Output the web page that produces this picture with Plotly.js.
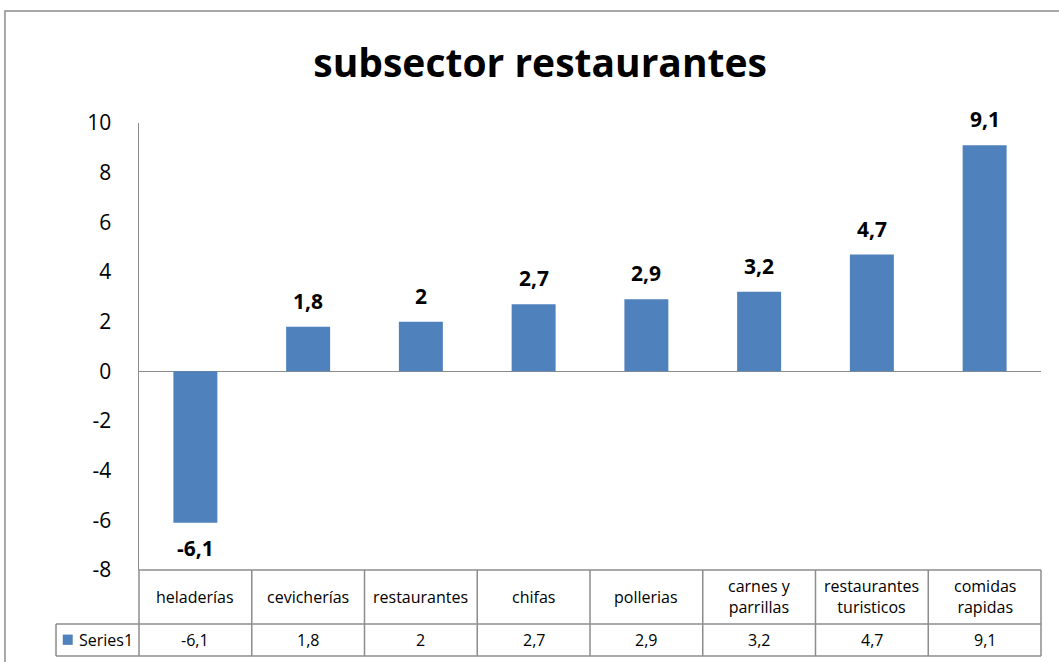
<!DOCTYPE html>
<html>
<head>
<meta charset="utf-8">
<script src="https://cdn.plot.ly/plotly-3.0.1.min.js"></script>
<style>html,body{margin:0;padding:0;background:#fff;}#chart{width:1059px;height:662px;}</style>
</head>
<body>
<div id="chart"></div>
<script>
var categories = ["heladerías", "cevicherías", "restaurantes", "chifas", "pollerias", "carnes y<br>parrillas", "restaurantes<br>turisticos", "comidas<br>rapidas"];
var values = [-6.1, 1.8, 2, 2.7, 2.9, 3.2, 4.7, 9.1];
var seriesName = "Series1";
var yTicks = [-8, -6, -4, -2, 0, 2, 4, 6, 8, 10];

var FONT = "Open Sans, Noto Sans, sans-serif";
var BAR = "#4F81BD";
var GRID = "#8C8C8C";
var fmt = function (v) { return String(v).replace('.', ','); };

var n = categories.length;
var rowTop = 0, rowMid = -0.1208, rowBot = -0.1924, legLeft = -0.092;

var shapes = [];
function line(x0, y0, x1, y1) {
  shapes.push({type: 'line', xref: 'paper', yref: 'paper', x0: x0, y0: y0, x1: x1, y1: y1,
    line: {color: GRID, width: 1.5}, layer: 'above'});
}
// outer frame
shapes.push({type: 'rect', xref: 'paper', yref: 'paper', x0: -0.1486, y0: -0.3, x1: 1.1, y1: 1.2506,
  line: {color: '#8C8C8C', width: 1.5}, fillcolor: 'rgba(0,0,0,0)', layer: 'below'});
// data table
line(0, rowTop, 1, rowTop);
line(legLeft, rowMid, 1, rowMid);
line(legLeft, rowBot, 1, rowBot);
line(legLeft, rowMid, legLeft, rowBot);
for (var k = 0; k <= n; k++) line(k / n, rowTop, k / n, rowBot);
// legend key
shapes.push({type: 'rect', xref: 'paper', yref: 'paper', x0: -0.0845, x1: -0.0735, y0: -0.1445, y1: -0.1675,
  line: {width: 0}, fillcolor: BAR});

var annotations = [];
for (var i = 0; i < n; i++) {
  var v = values[i];
  annotations.push({x: categories[i], y: v, xref: 'x', yref: 'y', text: '<b>' + fmt(v) + '</b>',
    showarrow: false, yanchor: v >= 0 ? 'bottom' : 'top', yshift: v >= 0 ? 10 : -9,
    font: {family: FONT, size: 21, color: '#000'}});
  annotations.push({x: categories[i], y: (rowTop + rowMid) / 2, xref: 'x', yref: 'paper', text: categories[i],
    showarrow: false, yanchor: 'middle', font: {family: FONT, size: 16, color: '#000'}});
  annotations.push({x: categories[i], y: (rowMid + rowBot) / 2, xref: 'x', yref: 'paper', text: fmt(v),
    showarrow: false, yanchor: 'middle', font: {family: FONT, size: 16, color: '#000'}});
}
annotations.push({x: -0.069, y: (rowMid + rowBot) / 2, xref: 'paper', yref: 'paper', text: seriesName,
  xanchor: 'left', showarrow: false, yanchor: 'middle', font: {family: FONT, size: 16, color: '#000'}});

var data = [{
  type: 'bar', x: categories, y: values, name: seriesName,
  marker: {color: BAR}, width: 0.39, hoverinfo: 'x+y'
}];

var layout = {
  width: 1059, height: 662,
  margin: {l: 139, r: 18, t: 123, b: 92, pad: 0},
  paper_bgcolor: '#fff', plot_bgcolor: '#fff',
  showlegend: false,
  title: {text: '<b>subsector restaurantes</b>', x: 0.51, xanchor: 'center', y: 0.905, yanchor: 'middle',
    font: {family: FONT, size: 39, color: '#000'}},
  xaxis: {type: 'category', range: [-0.5, n - 0.5], showticklabels: false, showgrid: false,
    zeroline: false, showline: false, ticks: '', fixedrange: true},
  yaxis: {range: [-8, 10], tickvals: yTicks, ticktext: yTicks.map(String), showgrid: false,
    zeroline: true, zerolinecolor: GRID, zerolinewidth: 1.5,
    showline: true, linecolor: GRID, linewidth: 1.5, ticks: '', ticklabelstandoff: 22,
    tickfont: {family: FONT, size: 21, color: '#000'}, fixedrange: true},
  shapes: shapes,
  annotations: annotations,
  bargap: 0.6
};

Plotly.newPlot('chart', data, layout, {displayModeBar: false, staticPlot: true});
</script>
</body>
</html>
